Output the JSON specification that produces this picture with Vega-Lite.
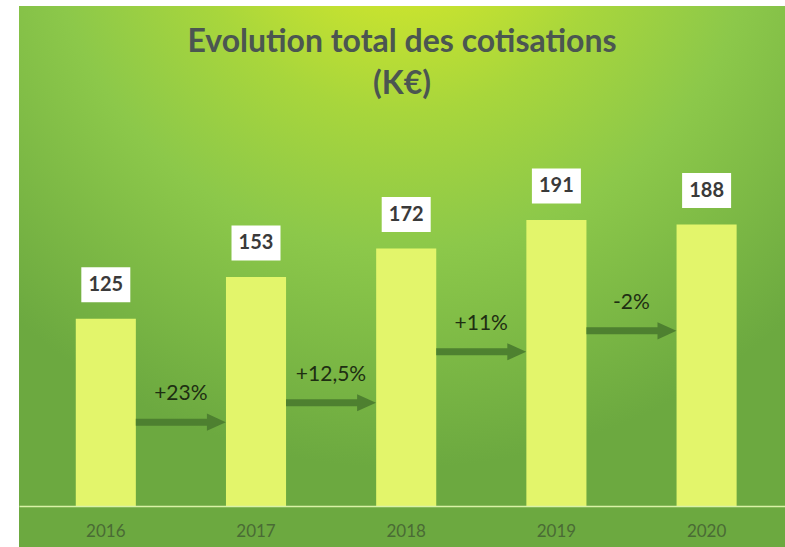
{
  "$schema": "https://vega.github.io/schema/vega-lite/v6.json",
  "width": 766,
  "height": 541,
  "autosize": {"type": "none"},
  "padding": {"left": 19, "top": 6, "right": 0, "bottom": 0},
  "background": "white",
  "config": {"view": {"stroke": null}, "font": "Lato"},
  "title": {
    "text": ["Evolution total des cotisations", "(K€)"],
    "font": "Lato",
    "fontSize": 32,
    "fontWeight": "bold",
    "color": "#4b5651",
    "anchor": "middle",
    "frame": "group",
    "baseline": "top",
    "lineHeight": 42,
    "offset": -95
  },
  "datasets": {
    "totals": [
      {"year": "2016", "value": 125},
      {"year": "2017", "value": 153},
      {"year": "2018", "value": 172},
      {"year": "2019", "value": 191},
      {"year": "2020", "value": 188}
    ],
    "changes": [
      {"from": "2016", "label": "+23%", "level": 56},
      {"from": "2017", "label": "+12,5%", "level": 69},
      {"from": "2018", "label": "+11%", "level": 103},
      {"from": "2019", "label": "-2%", "level": 117}
    ]
  },
  "layer": [
    {
      "data": {"values": [{}]},
      "mark": {
        "type": "rect",
        "fill": {
          "gradient": "radial",
          "x1": 0.5, "y1": 0.0, "r1": 0,
          "x2": 0.5, "y2": 0.0, "r2": 0.75,
          "stops": [
            {"offset": 0, "color": "#dbec26"},
            {"offset": 0.14, "color": "#d0e62c"},
            {"offset": 0.38, "color": "#a8d63c"},
            {"offset": 0.62, "color": "#8cc84a"},
            {"offset": 1, "color": "#6ca940"}
          ]
        }
      },
      "encoding": {}
    },
    {
      "data": {"name": "totals"},
      "mark": {"type": "bar", "color": "#e3f56b"},
      "encoding": {
        "x": {
          "field": "year", "type": "ordinal",
          "scale": {"paddingInner": 0.6, "paddingOuter": 0.35, "align": 0.54},
          "axis": {
            "title": null, "orient": "bottom", "offset": -41, "zindex": 1,
            "ticks": false, "labelAngle": 0, "labelPadding": 17,
            "labelFont": "Lato", "labelFontSize": 17, "labelColor": "#4a6b35",
            "domainColor": "#d9f2a6", "domainWidth": 1.5
          }
        },
        "y": {
          "field": "value", "type": "quantitative",
          "scale": {"domain": [-27.4, 334], "nice": false, "zero": false},
          "axis": null
        }
      }
    },
    {
      "data": {"name": "totals"},
      "mark": {
        "type": "point",
        "shape": "M-1,-0.714H1V0.714H-1Z",
        "size": 2401,
        "filled": true,
        "color": "white",
        "opacity": 1,
        "yOffset": -34
      },
      "encoding": {
        "x": {"field": "year", "type": "ordinal"},
        "y": {"field": "value", "type": "quantitative"}
      }
    },
    {
      "data": {"name": "totals"},
      "mark": {
        "type": "text",
        "font": "Lato",
        "fontSize": 20,
        "fontWeight": "bold",
        "color": "#3a3a3a",
        "baseline": "middle",
        "yOffset": -34
      },
      "encoding": {
        "x": {"field": "year", "type": "ordinal"},
        "y": {"field": "value", "type": "quantitative"},
        "text": {"field": "value", "type": "quantitative"}
      }
    },
    {
      "data": {"name": "changes"},
      "mark": {
        "type": "point",
        "shape": "M-1,-0.078H0.58V-0.19L1,0L0.58,0.19V0.078H-1Z",
        "size": 8100,
        "filled": true,
        "color": "#4c7d2f",
        "opacity": 0.95,
        "xOffset": 75
      },
      "encoding": {
        "x": {"field": "from", "type": "ordinal"},
        "y": {"field": "level", "type": "quantitative"}
      }
    },
    {
      "data": {"name": "changes"},
      "mark": {
        "type": "text",
        "font": "Lato",
        "fontSize": 21,
        "color": "#1e2e12",
        "baseline": "middle",
        "xOffset": 75,
        "yOffset": -28
      },
      "encoding": {
        "x": {"field": "from", "type": "ordinal"},
        "y": {"field": "level", "type": "quantitative"},
        "text": {"field": "label", "type": "nominal"}
      }
    }
  ]
}
